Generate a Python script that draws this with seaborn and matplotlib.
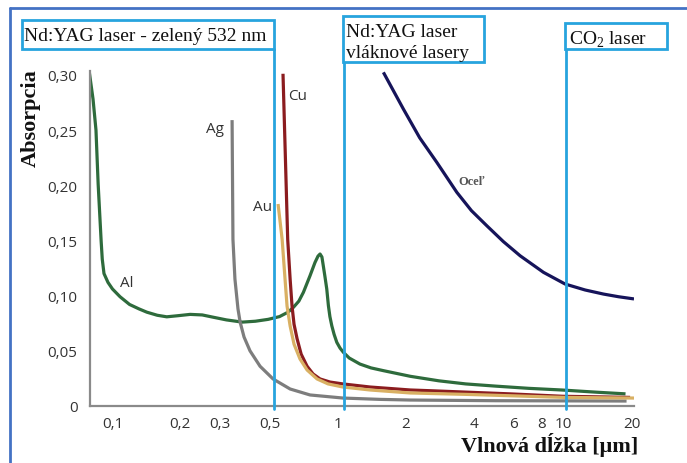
import numpy as np
import pandas as pd
import matplotlib
matplotlib.use("Agg")
import matplotlib.pyplot as plt
import seaborn as sns
from matplotlib.patches import Rectangle
from matplotlib.lines import Line2D

# ---------------- data ----------------
al_x = [0.079, 0.082, 0.0845, 0.0864, 0.0891, 0.0901, 0.0917, 0.0955, 0.100, 0.108, 0.119,
        0.131, 0.142, 0.158, 0.174, 0.195, 0.221, 0.25, 0.277, 0.32, 0.376, 0.43, 0.49,
        0.55, 0.60, 0.634, 0.67, 0.702, 0.751, 0.79, 0.815, 0.832, 0.848, 0.86, 0.875,
        0.891, 0.906, 0.92, 0.938, 0.96, 0.987, 1.02, 1.056, 1.12, 1.25, 1.4, 1.59, 2.09,
        2.8, 3.68, 5.0, 7.0, 9.8, 14.0, 18.8]
al_y = [0.302, 0.278, 0.25, 0.201, 0.149, 0.133, 0.120, 0.112, 0.106, 0.099, 0.092,
        0.088, 0.085, 0.0822, 0.0808, 0.0818, 0.083, 0.0825, 0.0806, 0.078, 0.076, 0.0768, 0.0785,
        0.081, 0.085, 0.0894, 0.095, 0.103, 0.118, 0.130, 0.1358, 0.1377, 0.135, 0.127, 0.117,
        0.106, 0.0909, 0.081, 0.0727, 0.065, 0.0577, 0.0525, 0.0486, 0.0435, 0.038, 0.0345, 0.032, 0.0269,
        0.0228, 0.020, 0.018, 0.016, 0.0145, 0.0125, 0.011]

ag_x = [0.339, 0.342, 0.349, 0.360, 0.368, 0.383, 0.407, 0.451, 0.515, 0.613, 0.751,
        1.052, 1.535, 2.09, 5.0, 19.0]
ag_y = [0.259, 0.151, 0.115, 0.088, 0.076, 0.0625, 0.050, 0.036, 0.0245, 0.0154, 0.010,
        0.0072, 0.006, 0.0054, 0.0048, 0.0045]

cu_x = [0.570, 0.585, 0.598, 0.613, 0.625, 0.638, 0.658, 0.686, 0.729, 0.775, 0.832, 0.921,
        1.05, 1.386, 2.09, 2.6, 5.77, 9.9, 19.7]
cu_y = [0.301, 0.22, 0.151, 0.115, 0.0906, 0.074, 0.061, 0.047, 0.036, 0.029, 0.0245, 0.0217,
        0.020, 0.0172, 0.0145, 0.0138, 0.011, 0.0088, 0.0078]

au_x = [0.542, 0.565, 0.582, 0.594, 0.613, 0.638, 0.678, 0.729, 0.807, 0.903, 1.05, 1.386,
        2.09, 3.73, 10.0, 20.5]
au_y = [0.183, 0.151, 0.115, 0.0906, 0.0725, 0.056, 0.0426, 0.0326, 0.0245, 0.020, 0.0172, 0.0145,
        0.0118, 0.0105, 0.0078, 0.0072]

steel_x = [1.588, 1.948, 2.30, 2.740, 3.360, 3.90, 4.564, 5.40, 6.413, 8.136, 10.15, 12.45,
           15.02, 17.5, 20.5]
steel_y = [0.3023, 0.269, 0.243, 0.2207, 0.1936, 0.177, 0.1633, 0.149, 0.1361, 0.1211, 0.1105, 0.1051,
           0.1014, 0.0990, 0.0970]

metals = ["Al", "Ag", "Cu", "Au", "Oceľ"]
colors = ["#2e6b3c", "#7d7d7d", "#8b1c1f", "#d9b063", "#16145a"]

xticks = [0.1, 0.2, 0.3, 0.5, 1, 2, 4, 6, 8, 10, 20]
xtick_labels = ["0,1", "0,2", "0,3", "0,5", "1", "2", "4", "6", "8", "10", "20"]
yticks = [0, 0.05, 0.10, 0.15, 0.20, 0.25, 0.30]
ytick_labels = ["0", "0,05", "0,10", "0,15", "0,20", "0,25", "0,30"]

laser_lines = [0.52, 1.06, 10.2]

# ---------------- build the plot ----------------
sns.set_theme(style="white")
plt.rcParams['font.family'] = ['Open Sans', 'DejaVu Sans']
plt.rcParams['mathtext.fontset'] = 'custom'
plt.rcParams['mathtext.rm'] = 'Liberation Serif'

W, H = 687, 464
fig = plt.figure(figsize=(W / 100, H / 100), dpi=100)
fig.patch.set_facecolor("white")
ax = fig.add_axes([90 / W, (H - 407) / H, 544 / W, 335 / H])

series = [(al_x, al_y), (ag_x, ag_y), (cu_x, cu_y), (au_x, au_y), (steel_x, steel_y)]
df = pd.concat([pd.DataFrame({"x": sx, "y": sy, "metal": m})
                for m, (sx, sy) in zip(metals, series)], ignore_index=True)

for m, c in zip(metals, colors):
    sns.lineplot(data=df[df.metal == m], x="x", y="y", color=c, linewidth=2.3,
                 estimator=None, sort=False, legend=False, ax=ax,
                 solid_joinstyle="round", solid_capstyle="butt")

ax.set_xscale("log")
ax.set_xlim(0.0795, 20.5)
ax.set_ylim(0, 0.3035)
ax.set_xticks(xticks)
ax.set_xticklabels(xtick_labels)
ax.xaxis.set_minor_locator(matplotlib.ticker.NullLocator())
ax.set_yticks(yticks)
ax.set_yticklabels(ytick_labels)
ax.set_xlabel("")
ax.set_ylabel("")

for s in ["top", "right"]:
    ax.spines[s].set_visible(False)
for s in ["left", "bottom"]:
    ax.spines[s].set_color("#8a8a8a")
    ax.spines[s].set_linewidth(1.6)
ax.tick_params(axis="both", direction="in", length=6, width=1.3, color="#8a8a8a",
               labelcolor="#333333", labelsize=11)
ax.tick_params(axis="x", pad=7)
ax.tick_params(axis="y", pad=9)
ax.set_facecolor("white")

# curve labels
lab_kw = dict(fontsize=11, color="#333333", va="center")
ax.text(0.108, 0.112, "Al", ha="left", **lab_kw)
ax.text(0.312, 0.251, "Ag", ha="right", **lab_kw)
ax.text(0.508, 0.181, "Au", ha="right", **lab_kw)
ax.text(0.60, 0.281, "Cu", ha="left", **lab_kw)
ax.text(3.9, 0.204, "Oceľ", ha="center", va="center", fontsize=9, color="#555555",
        fontweight="bold", family="Liberation Serif")

# laser wavelength lines
blue = "#27a4de"
ax_h = 335.0
for x, top_px in zip(laser_lines, [50, 63, 50]):
    ax.axvline(x, ymin=-3 / ax_h, ymax=(407 - top_px) / ax_h, color=blue,
               linewidth=2.0, clip_on=False, zorder=5)

# laser boxes (figure pixel layout)
def fbox(x0, y0, x1, y1):
    r = Rectangle((x0 / W, 1 - y1 / H), (x1 - x0) / W, (y1 - y0) / H,
                  transform=fig.transFigure, facecolor="white", edgecolor=blue,
                  linewidth=2.0, zorder=6)
    fig.add_artist(r)

fbox(22, 21, 274, 50)
fbox(343, 17, 484, 63)
fbox(565, 24, 667, 50)

bt = dict(family="Liberation Serif", fontsize=14, color="#111111", va="baseline",
          ha="left", zorder=7)
fig.text(24 / W, 1 - 41 / H, "Nd:YAG laser - zelený 532 nm", **bt)
fig.text(346 / W, 1 - 37 / H, "Nd:YAG laser", **bt)
fig.text(346 / W, 1 - 58 / H, "vláknové lasery", **bt)
fig.text(569 / W, 1 - 45 / H, r"CO$_\mathregular{2}$ laser", **bt)

# axis titles
fig.text(31 / W, 1 - 118 / H, "Absorpcia", rotation=90, ha="center", va="center",
         family="Liberation Serif", fontweight="bold", fontsize=16, color="#111111")
fig.text(638 / W, 1 - 445 / H, "Vlnová dĺžka [μm]", ha="right", va="center",
         family="Liberation Serif", fontweight="bold", fontsize=16, color="#111111")

# outer frame (top and left edges)
frame = "#4472c4"
fig.add_artist(Line2D([10 / W, 10 / W], [0, 1 - 9 / H], transform=fig.transFigure,
                      color=frame, linewidth=2.0))
fig.add_artist(Line2D([10 / W, 1], [1 - 9 / H, 1 - 9 / H], transform=fig.transFigure,
                      color=frame, linewidth=2.0))

fig.savefig("out.png", dpi=100)
